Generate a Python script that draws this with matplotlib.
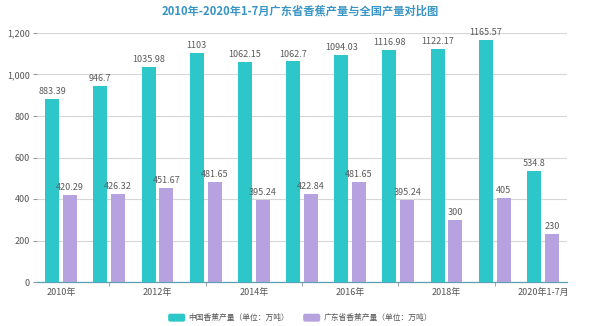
import matplotlib
matplotlib.use("Agg")
import matplotlib.pyplot as plt
import numpy as np
from matplotlib.ticker import FuncFormatter, FixedLocator
from matplotlib.patches import FancyBboxPatch, Patch
from matplotlib.legend_handler import HandlerPatch

plt.rcParams['font.family'] = ['Noto Sans CJK SC', 'DejaVu Sans']

categories = ["2010年", "2011年", "2012年", "2013年", "2014年", "2015年", "2016年",
              "2017年", "2018年", "2019年", "2020年1-7月"]
china = [883.39, 946.7, 1035.98, 1103, 1062.15, 1062.7, 1094.03, 1116.98, 1122.17, 1165.57, 534.8]
guangdong = [420.29, 426.32, 451.67, 481.65, 395.24, 422.84, 481.65, 395.24, 300, 405, 230]
china_labels = ["883.39", "946.7", "1035.98", "1103", "1062.15", "1062.7", "1094.03",
                "1116.98", "1122.17", "1165.57", "534.8"]
gd_labels = ["420.29", "426.32", "451.67", "481.65", "395.24", "422.84", "481.65",
             "395.24", "300", "405", "230"]
series_names = ["中国香蕉产量（单位：万吨）", "广东省香蕉产量（单位：万吨）"]
title = "2010年-2020年1-7月广东省香蕉产量与全国产量对比图"

teal = "#2ec7c9"
purple = "#b6a2de"

fig = plt.figure(figsize=(6.0, 3.26), dpi=100)
ax = fig.add_axes([37/600, 1-282/326, (567-37)/600, (282-33)/326])

x = np.arange(len(categories))
w = 0.29
off = 0.185
ax.bar(x - off, china, width=w, color=teal, zorder=3)
ax.bar(x + off, guangdong, width=w, color=purple, zorder=3)

for xi, v, t in zip(x, china, china_labels):
    ax.text(xi - off, v + 14, t, ha="center", va="bottom", fontsize=6.5, color="#5a5a5a", clip_on=False, zorder=4)
for xi, v, t in zip(x, guangdong, gd_labels):
    ax.text(xi + off, v + 14, t, ha="center", va="bottom", fontsize=6.5, color="#5a5a5a", clip_on=False, zorder=4)

ax.set_xlim(-0.5, len(categories) - 0.5)
ax.set_ylim(0, 1200)
ax.set_yticks([0, 200, 400, 600, 800, 1000, 1200])
ax.yaxis.set_major_formatter(FuncFormatter(lambda v, p: f"{int(v):,}"))
ax.grid(axis="y", color="#d6d6d6", linewidth=0.8, zorder=0)

major = [i for i in range(len(categories)) if i % 2 == 0]
ax.set_xticks(major)
ax.set_xticklabels([categories[i] for i in major])
ax.xaxis.set_minor_locator(FixedLocator([i for i in range(len(categories)) if i % 2 == 1]))
ax.tick_params(axis="x", which="major", length=0, labelsize=6.5, labelcolor="#555555", pad=4)
ax.tick_params(axis="x", which="minor", length=3, color="#999999", direction="out")
ax.tick_params(axis="y", length=3, color="#999999", labelsize=6.5, labelcolor="#555555", pad=2)

for s in ["top", "right", "left"]:
    ax.spines[s].set_visible(False)
ax.spines["bottom"].set_color("#5aa0b0")
ax.spines["bottom"].set_linewidth(0.9)

fig.text(0.5, 1 - 11/326, title, ha="center", va="center", fontsize=8.1, fontweight="bold", color="#3895c5")


class RoundHandler(HandlerPatch):
    def create_artists(self, legend, orig_handle, xdescent, ydescent, width, height, fontsize, trans):
        p = FancyBboxPatch((-xdescent, -ydescent), width, height,
                           boxstyle="round,pad=0,rounding_size=1.5",
                           facecolor=orig_handle.get_facecolor(), edgecolor="none", transform=trans)
        return [p]


handles = [Patch(facecolor=teal, edgecolor="none"), Patch(facecolor=purple, edgecolor="none")]
leg = fig.legend(handles, series_names, loc="center", bbox_to_anchor=(0.5, 1 - 318/326), ncol=2,
                 frameon=False, fontsize=5.6, handlelength=2.2, handleheight=1.2,
                 handletextpad=0.4, columnspacing=1.8, labelcolor="#555555",
                 handler_map={Patch: RoundHandler()})

fig.savefig("out.png", dpi=100)
